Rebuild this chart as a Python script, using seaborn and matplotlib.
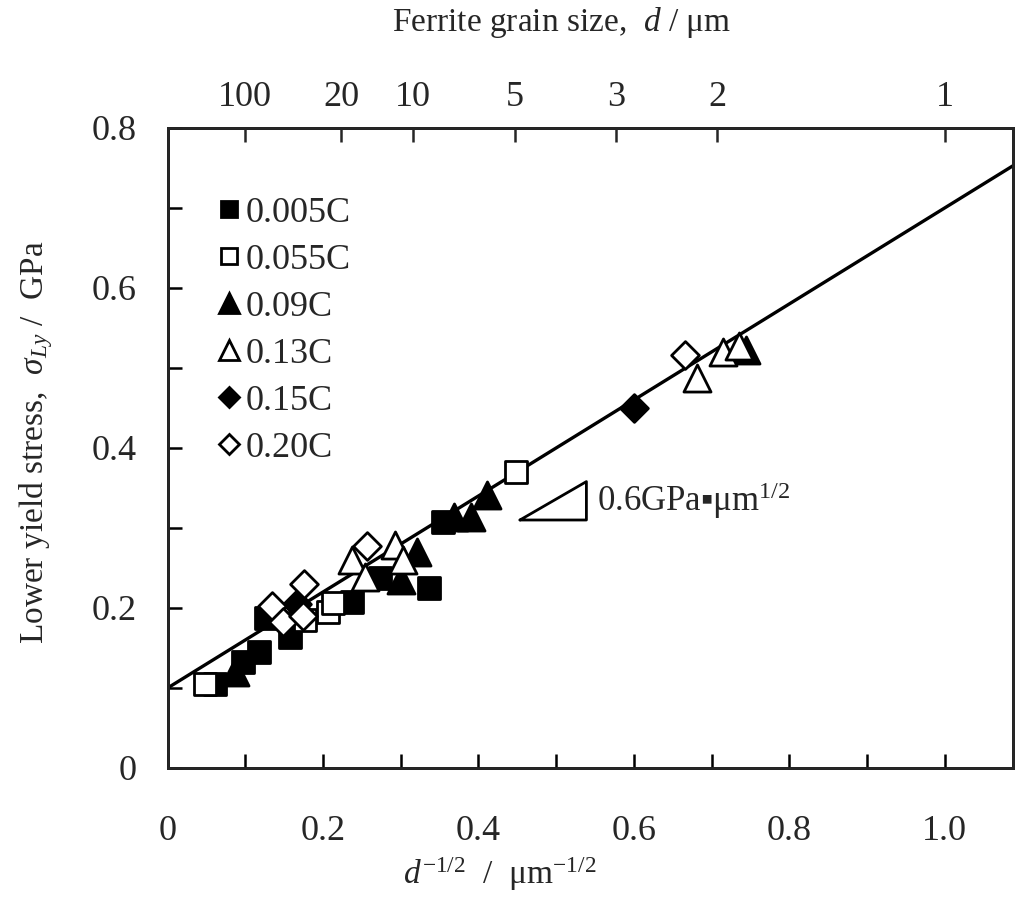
import numpy as np
import pandas as pd
import matplotlib
matplotlib.use("Agg")
import matplotlib.pyplot as plt
from matplotlib.lines import Line2D
import seaborn as sns

# ---------------- data ----------------
c0005_x = [0.061, 0.097, 0.117, 0.127, 0.158, 0.237, 0.273, 0.336, 0.354]
c0005_y = [0.105, 0.133, 0.145, 0.188, 0.164, 0.208, 0.237, 0.225, 0.307]

c0055_x = [0.048, 0.177, 0.207, 0.213, 0.448]
c0055_y = [0.105, 0.185, 0.195, 0.206, 0.370]

c009_x = [0.087, 0.301, 0.321, 0.368, 0.391, 0.411, 0.745]
c009_y = [0.120, 0.235, 0.270, 0.314, 0.314, 0.341, 0.522]

c013_x = [0.237, 0.254, 0.293, 0.303, 0.681, 0.715, 0.735]
c013_y = [0.260, 0.239, 0.279, 0.260, 0.487, 0.520, 0.528]

c015_x = [0.166, 0.600]
c015_y = [0.205, 0.450]

c020_x = [0.134, 0.149, 0.174, 0.175, 0.256, 0.666]
c020_y = [0.203, 0.183, 0.190, 0.230, 0.278, 0.516]

grades = ["0.005C", "0.055C", "0.09C", "0.13C", "0.15C", "0.20C"]
fit_intercept = 0.1   # GPa
fit_slope = 0.6       # GPa um^1/2

bottom_ticks = [0, 0.2, 0.4, 0.6, 0.8, 1.0]
bottom_labels = ["0", "0.2", "0.4", "0.6", "0.8", "1.0"]
left_ticks = [0, 0.2, 0.4, 0.6, 0.8]
left_labels = ["0", "0.2", "0.4", "0.6", "0.8"]
grain_sizes = [100, 20, 10, 5, 3, 2, 1]

# ---------------- style ----------------
sns.set_theme(style="ticks")
plt.rcParams['font.family'] = ['Liberation Serif', 'DejaVu Sans']
plt.rcParams['mathtext.fontset'] = 'custom'
plt.rcParams['mathtext.rm'] = 'Liberation Serif'
plt.rcParams['mathtext.it'] = 'Liberation Serif:italic'
plt.rcParams['mathtext.bf'] = 'Liberation Serif:bold'

frames = []
for g, xs, ys in zip(grades,
                     [c0005_x, c0055_x, c009_x, c013_x, c015_x, c020_x],
                     [c0005_y, c0055_y, c009_y, c013_y, c015_y, c020_y]):
    frames.append(pd.DataFrame({"x": xs, "y": ys, "grade": g}))
df = pd.concat(frames, ignore_index=True)

styles = {
    "0.005C": dict(marker="s", fc="black", s=260),
    "0.055C": dict(marker="s", fc="white", s=260),
    "0.09C": dict(marker="^", fc="black", s=380),
    "0.13C": dict(marker="^", fc="white", s=380),
    "0.15C": dict(marker="D", fc="black", s=200),
    "0.20C": dict(marker="D", fc="white", s=200),
}

W, H = 1015, 906
fig = plt.figure(figsize=(W / 100, H / 100), dpi=100)
x0, x1 = 167.6, 1013
y0, y1 = 768, 128
ax = fig.add_axes([x0 / W, 1 - y0 / H, (x1 - x0) / W, (y0 - y1) / H])
xmax = (x1 - x0) / 777.0
ax.set_xlim(0, xmax)
ax.set_ylim(0, 0.8)

# fitted line
line_x = np.array([0, xmax])
sns.lineplot(x=line_x, y=fit_intercept + fit_slope * line_x, color="black",
             linewidth=2.4, ax=ax, zorder=2)

for g in grades:
    st = styles[g]
    sub = df[df.grade == g]
    sns.scatterplot(data=sub, x="x", y="y", marker=st["marker"], s=st["s"],
                    color=st["fc"], edgecolor="black", linewidth=2.0,
                    ax=ax, zorder=3, legend=False)

# ticks
ax.set_xticks(bottom_ticks)
ax.set_xticklabels(bottom_labels)
ax.set_xticks(np.arange(0.1, 1.05, 0.2), minor=True)
ax.set_yticks(left_ticks)
ax.set_yticklabels(left_labels)
ax.set_yticks(np.arange(0.1, 0.75, 0.2), minor=True)
for which in ("major", "minor"):
    ax.tick_params(axis="both", which=which, direction="in", length=10,
                   width=1.8, color="black")
ax.tick_params(axis="x", which="major", labelsize=26, pad=34)
ax.tick_params(axis="y", which="major", labelsize=26, pad=22)
for sp in ax.spines.values():
    sp.set_linewidth(2.0)
    sp.set_color("black")

ax.set_xlabel("")
ax.set_ylabel("")
fig.text(36 / W, 1 - 442 / H, r"Lower yield stress,  $\sigma_{Ly}$ /  GPa",
         fontsize=24, rotation=90, ha="center", va="center")
fig.text(500 / W, 1 - 874 / H, r"$d^{-1/2}$  /  μm$^{-1/2}$", fontsize=24,
         ha="center", va="center")
fig.text(562 / W, 1 - 22 / H, r"Ferrite grain size,  $d$ / μm", fontsize=24,
         ha="center", va="center")

# top axis: grain size
ax2 = ax.twiny()
ax2.set_xlim(ax.get_xlim())
ax2.set_xticks([1 / np.sqrt(d) for d in grain_sizes])
ax2.set_xticklabels([str(d) for d in grain_sizes])
ax2.tick_params(axis="x", direction="in", length=10, width=1.8,
                labelsize=26, pad=10)
for sp in ax2.spines.values():
    sp.set_linewidth(2.0)

# slope triangle
tri_x = [0.4535, 0.539, 0.539, 0.4535]
tri_y = [0.310, 0.310, 0.358, 0.310]
ax.plot(tri_x, tri_y, color="black", linewidth=2.0, zorder=2)
ax.text(0.553, 0.334, "0.6GPa▪μm$^{1/2}$", fontsize=25, va="center",
        ha="left", family=['Liberation Serif', 'DejaVu Sans'])

# legend
handles = []
for g in grades:
    st = styles[g]
    handles.append(Line2D([], [], linestyle="none", marker=st["marker"],
                          markersize=np.sqrt(st["s"]) * 0.72,
                          markerfacecolor=st["fc"], markeredgecolor="black",
                          markeredgewidth=2.0, label=g))
leg = ax.legend(handles=handles, loc="upper left",
                bbox_to_anchor=(0.039, 0.915), frameon=False,
                fontsize=26, handletextpad=0.05, handlelength=0.8,
                labelspacing=0.38, borderaxespad=0)

fig.savefig("out.png", dpi=100)
